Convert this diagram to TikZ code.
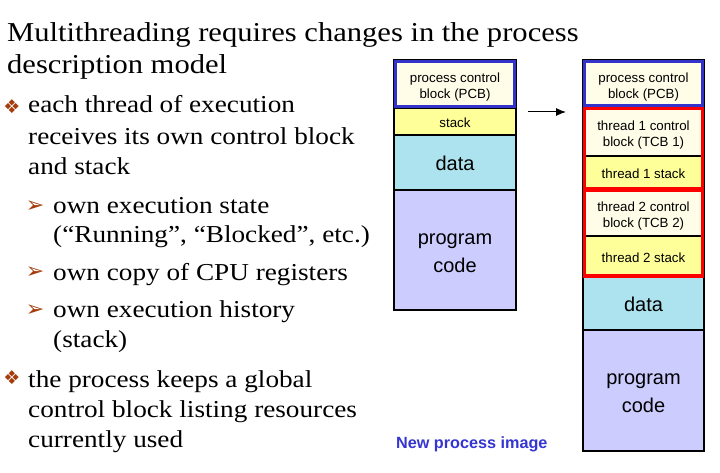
\documentclass[tikz,border=0pt]{standalone}
\usepackage{fontspec}
\setmainfont[FakeStretch=1.12]{Liberation Serif}
\newfontfamily\arialfont{Liberation Sans}
\newfontfamily\symfont{DejaVu Sans}
\usetikzlibrary{arrows.meta}

\definecolor{pcbfill}{HTML}{FFFDE8}
\definecolor{stackfill}{HTML}{FFFF99}
\definecolor{datafill}{HTML}{ACE3EE}
\definecolor{codefill}{HTML}{CCCCFF}
\definecolor{frameblue}{HTML}{3333CC}
\definecolor{framered}{HTML}{FF0000}
\definecolor{bulletbrown}{HTML}{A63C0C}
\definecolor{captionblue}{HTML}{3535D2}

\tikzset{
  titleline/.style={anchor=base west, inner sep=0pt, font=\fontsize{27.3}{30}\selectfont},
  bodyline/.style={anchor=base west, inner sep=0pt, font=\fontsize{24.3}{30}\selectfont},
  mainbullet/.style={inner sep=0pt, text=bulletbrown, font=\symfont\fontsize{19}{19}\selectfont},
  subbullet/.style={inner sep=0pt, text=bulletbrown, font=\symfont\fontsize{22}{22}\selectfont},
  seg/.style={draw=black, line width=1.3pt, anchor=north west, inner sep=0pt, outer sep=0pt},
  smalltext/.style={inner sep=0pt, align=center, font=\arialfont\fontsize{13.3}{16.5}\selectfont},
  bigtext/.style={inner sep=0pt, align=center, font=\arialfont\fontsize{20}{28.5}\selectfont},
  blueframe/.style={draw=frameblue, line width=3.6pt},
  redframe/.style={draw=framered, line width=3.8pt},
}

\begin{document}
\begin{tikzpicture}[x=1pt, y=-1pt]
  \useasboundingbox (0,0) rectangle (720,473);
  \fill[white] (0,0) rectangle (720,473);

  % heading
  \node[titleline] (t1) at (7,42) {Multithreading requires changes in the process};
  \node[titleline] (t2) at (7,74) {description model};

  % first bullet
  \node[mainbullet] (b1) at (12,107) {❖};
  \node[bodyline] (l1) at (28,113) {each thread of execution};
  \node[bodyline] (l2) at (28,145) {receives its own control block};
  \node[bodyline] (l3) at (28,175) {and stack};

  \node[subbullet] (s1) at (35,207) {➢};
  \node[bodyline] (l4) at (53,214) {own execution state};
  \node[bodyline] (l5) at (53,243) {(“Running”, “Blocked”, etc.)};
  \node[subbullet] (s2) at (35,273) {➢};
  \node[bodyline] (l6) at (53,280) {own copy of CPU registers};
  \node[subbullet] (s3) at (35,311) {➢};
  \node[bodyline] (l7) at (53,317) {own execution history};
  \node[bodyline] (l8) at (53,347) {(stack)};

  % second bullet
  \node[mainbullet] (b2) at (12,378) {❖};
  \node[bodyline] (l9) at (28,387) {the process keeps a global};
  \node[bodyline] (l10) at (28,417) {control block listing resources};
  \node[bodyline] (l11) at (28,447) {currently used};

  % single-threaded process image: segments
  \node[seg, fill=pcbfill, minimum width=122pt, minimum height=48pt] (pcbA) at (394,60) {};
  \node[seg, fill=stackfill, minimum width=122pt, minimum height=27pt] (stackA) at (394,108) {};
  \node[seg, fill=datafill, minimum width=122pt, minimum height=55pt] (dataA) at (394,135) {};
  \node[seg, fill=codefill, minimum width=122pt, minimum height=120pt] (codeA) at (394,190) {};
  \draw[blueframe] (395.5,61.5) rectangle (514.5,106.5);
  % ... and their labels
  \node[smalltext] (pcbAt) at ([yshift=-3pt]pcbA.center) {process control\\block (PCB)};
  \node[smalltext] (stackAt) at ([yshift=-1pt]stackA.center) {stack};
  \node[bigtext] (dataAt) at ([yshift=-1pt]dataA.center) {data};
  \node[bigtext] (codeAt) at ([yshift=-3pt]codeA.center) {program\\code};

  % arrow between the two images
  \coordinate (arrS) at (528,112);
  \coordinate (arrE) at (566,112);
  \draw[line width=1pt, -{Latex[length=10pt, width=8pt]}] (arrS) -- (arrE);

  % multithreaded process image: segments
  \node[seg, fill=pcbfill, minimum width=121pt, minimum height=47pt] (pcbB) at (583,60) {};
  \node[seg, fill=pcbfill, minimum width=121pt, minimum height=49pt] (tcb1) at (583,107) {};
  \node[seg, fill=stackfill, minimum width=121pt, minimum height=33pt] (stk1) at (583,156) {};
  \node[seg, fill=pcbfill, minimum width=121pt, minimum height=47pt] (tcb2) at (583,189) {};
  \node[seg, fill=stackfill, minimum width=121pt, minimum height=41pt] (stk2) at (583,236) {};
  \node[seg, fill=datafill, minimum width=121pt, minimum height=53pt] (dataB) at (583,277) {};
  \node[seg, fill=codefill, minimum width=121pt, minimum height=121pt] (codeB) at (583,330) {};
  \draw[blueframe] (584.5,61.5) rectangle (702.5,105.5);
  \draw[redframe] (tcb1.north west) ++(1.5,1.5) rectangle ([shift={(-1.5,-0.5)}]stk1.south east);
  \draw[redframe] (tcb2.north west) ++(1.5,1.5) rectangle ([shift={(-1.5,-1)}]stk2.south east);
  % ... and their labels
  \node[smalltext] (pcbBt) at ([yshift=-3.5pt]pcbB.center) {process control\\block (PCB)};
  \node[smalltext] (tcb1t) at ([yshift=-3.5pt]tcb1.center) {thread 1 control\\block (TCB 1)};
  \node[smalltext] (stk1t) at ([yshift=-1pt]stk1.center) {thread 1 stack};
  \node[smalltext] (tcb2t) at ([yshift=-3.5pt]tcb2.center) {thread 2 control\\block (TCB 2)};
  \node[smalltext] (stk2t) at ([yshift=-1pt]stk2.center) {thread 2 stack};
  \node[bigtext] (dataBt) at ([yshift=-1pt]dataB.center) {data};
  \node[bigtext] (codeBt) at ([yshift=-2.5pt]codeB.center) {program\\code};

  \node[anchor=base west, inner sep=0pt, text=captionblue, font=\arialfont\bfseries\fontsize{16.2}{16}\selectfont]
    (cap) at (396,448) {New process image};
\end{tikzpicture}
\end{document}
